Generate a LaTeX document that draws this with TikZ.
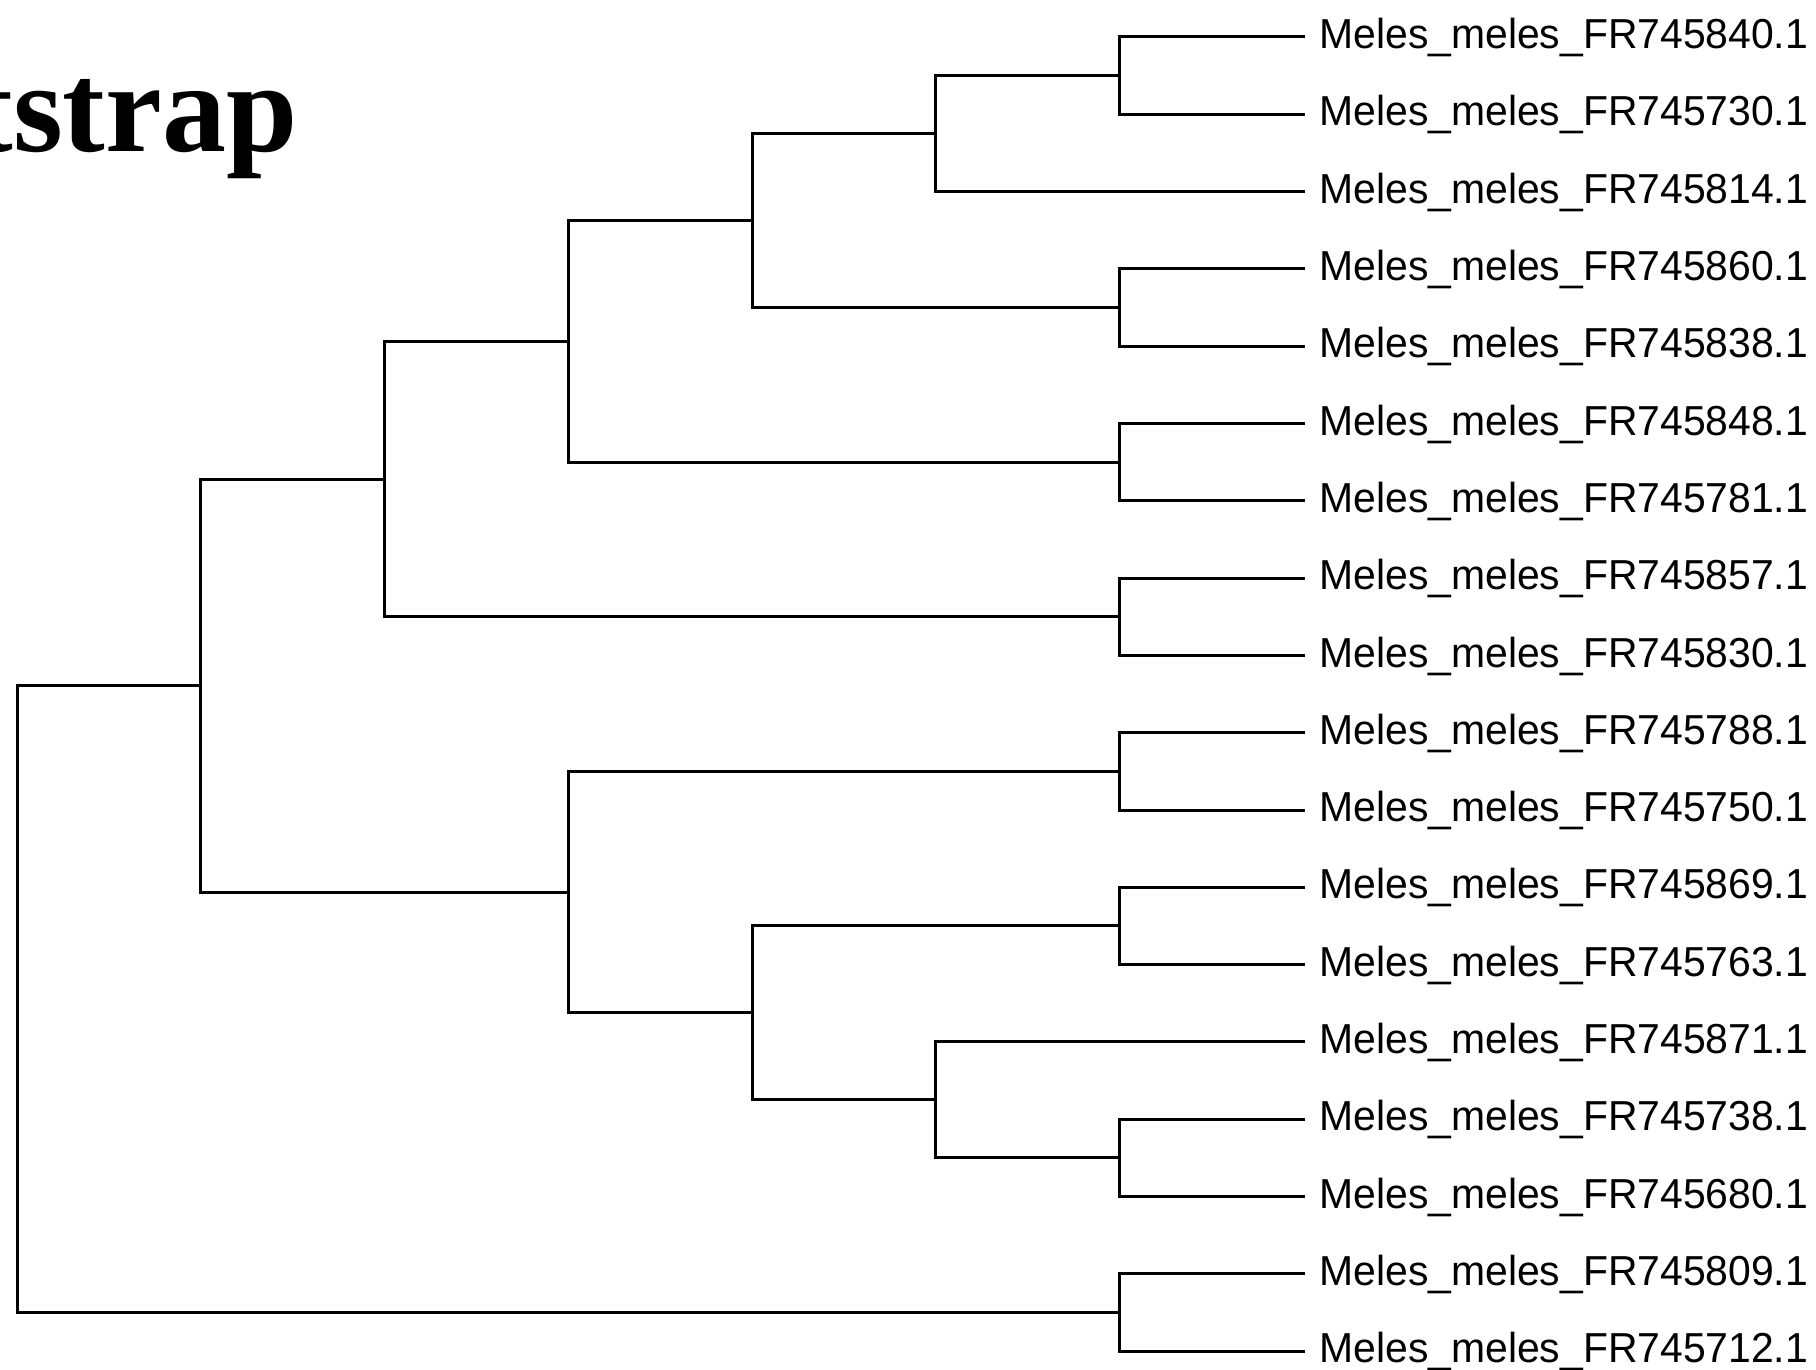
\documentclass[tikz,border=0pt]{standalone}
\usepackage{fontspec}
\newfontfamily\lblfont[FakeStretch=0.976]{Liberation Sans}
\newfontfamily\titlefont{Liberation Serif}
\usetikzlibrary{calc}

\tikzset{
  branch/.style={draw=black, line width=1.5pt, line join=miter},
  leaf/.style={anchor=west, inner xsep=7pt, inner ysep=0pt, yshift=1.7pt,
    text height=15pt, text depth=0pt,
    font=\lblfont\fontsize{20.95}{23}\selectfont},
  heading/.style={anchor=base east, inner sep=0pt,
    font=\titlefont\bfseries\fontsize{64}{70}\selectfont}
}

\begin{document}
\begin{tikzpicture}[x=0.5pt, y=-0.5pt]
  \useasboundingbox (0,0) rectangle (1816,1370);
  \clip (0,0) rectangle (1816,1370);
  \fill[white] (0,0) rectangle (1816,1370);

  % heading, running off the left edge
  \node[heading] (title) at (298,152) {Bootstrap};

  % leaf ends
  \coordinate (e1)  at (1305,37);
  \coordinate (e2)  at (1305,114.3);
  \coordinate (e3)  at (1305,191.6);
  \coordinate (e4)  at (1305,268.9);
  \coordinate (e5)  at (1305,346.2);
  \coordinate (e6)  at (1305,423.5);
  \coordinate (e7)  at (1305,500.8);
  \coordinate (e8)  at (1305,578.1);
  \coordinate (e9)  at (1305,655.4);
  \coordinate (e10) at (1305,732.7);
  \coordinate (e11) at (1305,810.0);
  \coordinate (e12) at (1305,887.3);
  \coordinate (e13) at (1305,964.6);
  \coordinate (e14) at (1305,1041.9);
  \coordinate (e15) at (1305,1119.2);
  \coordinate (e16) at (1305,1196.5);
  \coordinate (e17) at (1305,1273.8);
  \coordinate (e18) at (1305,1351.1);

  % leaf labels
  \node[leaf] (t1)  at (e1)  {Meles\_meles\_FR745840.1};
  \node[leaf] (t2)  at (e2)  {Meles\_meles\_FR745730.1};
  \node[leaf] (t3)  at (e3)  {Meles\_meles\_FR745814.1};
  \node[leaf] (t4)  at (e4)  {Meles\_meles\_FR745860.1};
  \node[leaf] (t5)  at (e5)  {Meles\_meles\_FR745838.1};
  \node[leaf] (t6)  at (e6)  {Meles\_meles\_FR745848.1};
  \node[leaf] (t7)  at (e7)  {Meles\_meles\_FR745781.1};
  \node[leaf] (t8)  at (e8)  {Meles\_meles\_FR745857.1};
  \node[leaf] (t9)  at (e9)  {Meles\_meles\_FR745830.1};
  \node[leaf] (t10) at (e10) {Meles\_meles\_FR745788.1};
  \node[leaf] (t11) at (e11) {Meles\_meles\_FR745750.1};
  \node[leaf] (t12) at (e12) {Meles\_meles\_FR745869.1};
  \node[leaf] (t13) at (e13) {Meles\_meles\_FR745763.1};
  \node[leaf] (t14) at (e14) {Meles\_meles\_FR745871.1};
  \node[leaf] (t15) at (e15) {Meles\_meles\_FR745738.1};
  \node[leaf] (t16) at (e16) {Meles\_meles\_FR745680.1};
  \node[leaf] (t17) at (e17) {Meles\_meles\_FR745809.1};
  \node[leaf] (t18) at (e18) {Meles\_meles\_FR745712.1};

  % internal nodes
  \coordinate (A) at (1119.5,75.65);
  \coordinate (B) at (935.5,133.6);
  \coordinate (C) at (1119.5,307.55);
  \coordinate (D) at (752,220.6);
  \coordinate (E) at (1119.5,462.15);
  \coordinate (F) at (568,341.4);
  \coordinate (G) at (1119.5,616.75);
  \coordinate (H) at (384,479.1);
  \coordinate (I) at (1119.5,771.35);
  \coordinate (J) at (1119.5,925.95);
  \coordinate (K) at (1119.5,1157.85);
  \coordinate (L) at (935.5,1099.9);
  \coordinate (M) at (752,1012.9);
  \coordinate (N) at (568,892.1);
  \coordinate (O) at (200.5,685.6);
  \coordinate (P) at (1119.5,1312.45);
  \coordinate (R) at (17,1000);

  % cherries
  \draw[branch] (e1)  -| (A) |- (e2);
  \draw[branch] (e4)  -| (C) |- (e5);
  \draw[branch] (e6)  -| (E) |- (e7);
  \draw[branch] (e8)  -| (G) |- (e9);
  \draw[branch] (e10) -| (I) |- (e11);
  \draw[branch] (e12) -| (J) |- (e13);
  \draw[branch] (e15) -| (K) |- (e16);
  \draw[branch] (e17) -| (P) |- (e18);

  % deeper clades
  \draw[branch] (A) -| (B) |- (e3);
  \draw[branch] (B) -| (D) |- (C);
  \draw[branch] (D) -| (F) |- (E);
  \draw[branch] (F) -| (H) |- (G);
  \draw[branch] (e14) -| (L) |- (K);
  \draw[branch] (J) -| (M) |- (L);
  \draw[branch] (I) -| (N) |- (M);
  \draw[branch] (H) -| (O) |- (N);
  \draw[branch] (O) -| (R) |- (P);
\end{tikzpicture}
\end{document}
